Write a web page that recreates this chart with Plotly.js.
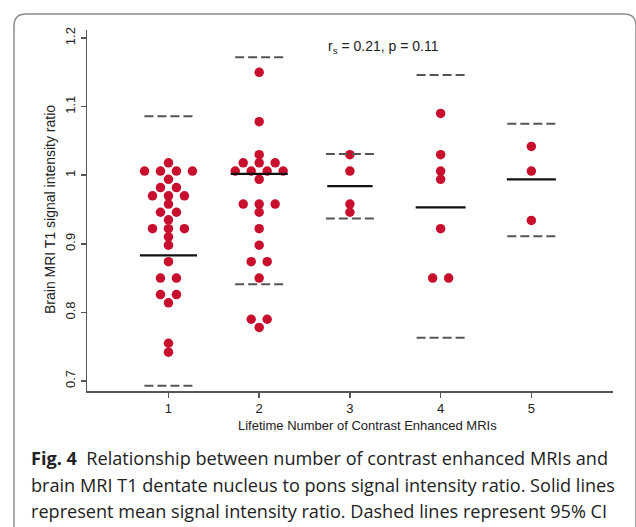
<!DOCTYPE html>
<html><head><meta charset="utf-8">
<script src="https://cdn.plot.ly/plotly-3.0.1.min.js"></script>
<style>html,body{margin:0;padding:0;background:#fff;overflow:hidden}#chart{width:636px;height:527px;}</style>
</head><body><div id="chart"></div>
<script>
// ---- data ----
const groups = [1, 2, 3, 4, 5];
const xTickLabels = ['1', '2', '3', '4', '5'];
const yTickVals = [0.7, 0.8, 0.9, 1.0, 1.1, 1.2];
const yTickLabels = ['0.7', '0.8', '0.9', '1', '1.1', '1.2'];
const g1 = [1.018, 1.006, 1.006, 1.006, 1.006, 0.994, 0.982, 0.982, 0.970, 0.970, 0.970, 0.958, 0.946, 0.946, 0.935, 0.922, 0.922, 0.922, 0.910, 0.898, 0.874, 0.850, 0.850, 0.826, 0.826, 0.814, 0.755, 0.742];
const g2 = [1.150, 1.078, 1.030, 1.018, 1.018, 1.018, 1.006, 1.006, 1.006, 1.006, 0.994, 0.958, 0.958, 0.958, 0.946, 0.922, 0.898, 0.874, 0.874, 0.850, 0.790, 0.790, 0.778];
const g3 = [1.030, 1.006, 0.958, 0.946];
const g4 = [1.090, 1.030, 1.006, 0.994, 0.922, 0.850, 0.850];
const g5 = [1.042, 1.006, 0.934];
const means = [0.883, 1.002, 0.984, 0.953, 0.994];
const ciUpper = [1.086, 1.172, 1.031, 1.146, 1.075];
const ciLower = [0.693, 0.841, 0.937, 0.763, 0.911];
const statText = 'r<sub>s</sub> = 0.21, p = 0.11';
const xTitle = 'Lifetime Number of Contrast Enhanced MRIs';
const yTitle = 'Brain MRI T1 signal intensity ratio';
const captionLines = [
  '<b>Fig. 4</b>  Relationship between number of contrast enhanced MRIs and',
  'brain MRI T1 dentate nucleus to pons signal intensity ratio. Solid lines',
  'represent mean signal intensity ratio. Dashed lines represent 95% CI'
];

// ---- layout helpers (styles / geometry) ----
const allGroups = [g1, g2, g3, g4, g5];
const dotStep = 0.176;              // horizontal spacing of tied dots (axis units)
const meanHalf = [0.315, 0.315, 0.25, 0.275, 0.27];
const ciHalf = 0.265;
const RED = '#C8102E';

const px = [], py = [];
allGroups.forEach((vals, gi) => {
  const counts = {};
  vals.forEach(v => { const k = v.toFixed(3); counts[k] = (counts[k] || 0) + 1; });
  const seen = {};
  vals.forEach(v => {
    const k = v.toFixed(3); const n = counts[k]; const i = seen[k] || 0; seen[k] = i + 1;
    px.push(groups[gi] + (i - (n - 1) / 2) * dotStep);
    py.push(v);
  });
});

function segs(vals, half) {
  const xs = [], ys = [];
  vals.forEach((v, i) => {
    const h = Array.isArray(half) ? half[i] : half;
    xs.push(groups[i] - h, groups[i] + h, null);
    ys.push(v, v, null);
  });
  return {xs, ys};
}
const mS = segs(means, meanHalf), uS = segs(ciUpper, ciHalf), lS = segs(ciLower, ciHalf);

const traces = [
  {x: px, y: py, mode: 'markers', type: 'scatter', marker: {color: RED, size: 9.5}, hoverinfo: 'y'},
  {x: uS.xs, y: uS.ys, mode: 'lines', type: 'scatter', line: {color: '#555', width: 2, dash: '9px,4px'}},
  {x: lS.xs, y: lS.ys, mode: 'lines', type: 'scatter', line: {color: '#555', width: 2, dash: '9px,4px'}},
  {x: mS.xs, y: mS.ys, mode: 'lines', type: 'scatter', line: {color: '#111', width: 2.2}}
];

// pixel geometry of plot area
const L = 87, R = 613, T = 30, B = 391, W = 636, HH = 527;
const pw = R - L, ph = B - T;
const fx = x => (x - L) / pw, fy = y => (B - y) / ph;

function framePath() {
  const x0 = 14, y0 = 14, x1 = 636, r = 12, yb = 560;
  const P = (x, y) => fx(x).toFixed(5) + ',' + fy(y).toFixed(5);
  return 'M' + P(x0, yb) + ' L' + P(x0, y0 + r) + ' Q' + P(x0, y0) + ' ' + P(x0 + r, y0) +
    ' L' + P(x1 - r, y0) + ' Q' + P(x1, y0) + ' ' + P(x1, y0 + r) + ' L' + P(x1, yb);
}

// fit caption font size so the second line spans the reference width
const capFamily = 'Open Sans';
function fitSize(text, target) {
  const c = document.createElement('canvas').getContext('2d');
  c.font = '100px "' + capFamily + '"';
  const w = c.measureText(text).width;
  return Math.min(19, 100 * target / w);
}
const capSize = fitSize(captionLines[1], 584);

const axisFont = {family: 'Liberation Sans, Arial, sans-serif', size: 13, color: '#222'};
const capFont = {family: capFamily + ', sans-serif', size: capSize, color: '#222'};

const annotations = [
  {xref: 'paper', yref: 'paper', x: fx(383), y: fy(36), text: statText, showarrow: false,
   font: {family: 'Liberation Sans, Arial, sans-serif', size: 14, color: '#222'}},
  {xref: 'paper', yref: 'paper', x: fx(367.5), y: fy(434.5), text: xTitle, showarrow: false, font: axisFont},
  {xref: 'paper', yref: 'paper', x: fx(40), y: fy(210), text: yTitle, textangle: -90, showarrow: false,
   font: {family: 'Liberation Sans, Arial, sans-serif', size: 14, color: '#222'}}
];
const capY = [458, 485, 511];
captionLines.forEach((t, i) => annotations.push({
  xref: 'paper', yref: 'paper', x: fx(29), y: fy(capY[i]), xanchor: 'left', yanchor: 'middle',
  text: t, showarrow: false, font: capFont
}));

const layout = {
  width: W, height: HH,
  margin: {l: L, r: W - R, t: T, b: HH - B, pad: 0},
  paper_bgcolor: '#fff', plot_bgcolor: '#fff',
  showlegend: false,
  xaxis: {range: [0.102, 5.9], tickvals: groups, ticktext: xTickLabels, showline: true, linecolor: '#555', linewidth: 1.5,
          ticks: 'outside', ticklen: 5, tickwidth: 1.5, tickcolor: '#555', showgrid: false, zeroline: false, tickfont: axisFont},
  yaxis: {range: [0.6854, 1.2117], tickvals: yTickVals, ticktext: yTickLabels, tickangle: -90, showline: true, linecolor: '#555', linewidth: 1.5,
          ticks: 'outside', ticklen: 5, tickwidth: 1.5, tickcolor: '#555', showgrid: false, zeroline: false, tickfont: axisFont},
  shapes: [{type: 'path', xref: 'paper', yref: 'paper', path: framePath(), line: {color: '#8c8c8c', width: 1.5}}],
  annotations: annotations
};

Plotly.newPlot('chart', traces, layout, {staticPlot: true, displayModeBar: false});
</script></body></html>
